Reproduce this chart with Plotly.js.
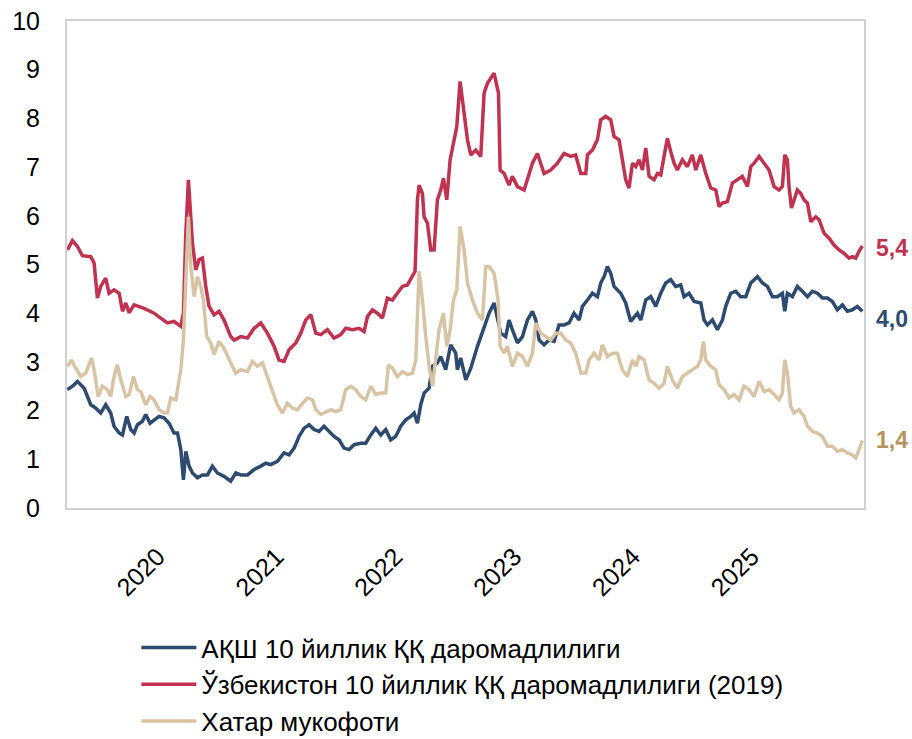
<!DOCTYPE html>
<html>
<head>
<meta charset="utf-8">
<script src="https://cdn.plot.ly/plotly-3.0.1.min.js"></script>
<style>
  html, body { margin: 0; padding: 0; background: #fff; }
  #chart { width: 912px; height: 739px; }
</style>
</head>
<body>
<div id="chart"></div>
<script>
// ---- Data (time in decimal years, values in %) ----
const seriesNames = [
  'АҚШ 10 йиллик ҚҚ даромадлилиги',
  'Ўзбекистон 10 йиллик ҚҚ даромадлилиги (2019)',
  'Хатар мукофоти'
];

const usT = [2019.240,2019.282,2019.324,2019.380,2019.436,2019.478,2019.520,2019.562,2019.604,2019.632,2019.675,2019.703,2019.739,2019.773,2019.801,2019.829,2019.871,2019.899,2019.935,2019.969,2020.011,2020.053,2020.095,2020.137,2020.166,2020.194,2020.216,2020.236,2020.264,2020.292,2020.334,2020.376,2020.418,2020.460,2020.502,2020.558,2020.614,2020.657,2020.699,2020.755,2020.811,2020.867,2020.909,2020.951,2021.007,2021.063,2021.105,2021.148,2021.190,2021.232,2021.274,2021.316,2021.358,2021.400,2021.442,2021.484,2021.526,2021.568,2021.610,2021.653,2021.709,2021.751,2021.793,2021.835,2021.877,2021.919,2021.961,2022.003,2022.045,2022.088,2022.130,2022.158,2022.186,2022.214,2022.242,2022.284,2022.312,2022.354,2022.382,2022.424,2022.466,2022.508,2022.522,2022.550,2022.593,2022.635,2022.691,2022.747,2022.789,2022.831,2022.859,2022.887,2022.929,2022.957,2022.985,2023.028,2023.070,2023.112,2023.154,2023.182,2023.210,2023.252,2023.294,2023.336,2023.378,2023.420,2023.462,2023.504,2023.547,2023.575,2023.617,2023.659,2023.701,2023.729,2023.757,2023.785,2023.813,2023.841,2023.897,2023.939,2023.981,2024.010,2024.038,2024.066,2024.108,2024.150,2024.192,2024.234,2024.276,2024.318,2024.360,2024.402,2024.430,2024.472,2024.515,2024.571,2024.599,2024.627,2024.669,2024.711,2024.753,2024.781,2024.823,2024.865,2024.907,2024.950,2024.992,2025.048,2025.090,2025.132,2025.174,2025.216,2025.258,2025.278,2025.300,2025.342,2025.384,2025.426,2025.469,2025.511,2025.553,2025.595,2025.637,2025.679,2025.721,2025.763,2025.805,2025.847,2025.889,2025.931];
const usY = [2.43,2.50,2.60,2.46,2.12,2.05,1.95,2.12,1.95,1.68,1.54,1.50,1.88,1.61,1.54,1.71,1.78,1.92,1.74,1.81,1.88,1.85,1.74,1.54,1.54,1.20,0.58,1.16,0.86,0.72,0.62,0.68,0.68,0.86,0.72,0.65,0.55,0.72,0.68,0.68,0.79,0.86,0.92,0.89,0.96,1.13,1.09,1.23,1.47,1.64,1.71,1.61,1.57,1.68,1.57,1.47,1.40,1.23,1.20,1.30,1.33,1.33,1.50,1.64,1.50,1.61,1.40,1.47,1.68,1.81,1.88,1.95,1.74,2.12,2.36,2.46,2.91,2.98,3.11,2.84,3.35,3.18,2.84,3.08,2.63,2.87,3.32,3.69,4.00,4.21,3.86,3.59,3.52,3.86,3.66,3.39,3.52,3.86,4.04,3.86,3.45,3.35,3.45,3.42,3.76,3.76,3.80,4.00,3.86,4.14,4.27,4.41,4.34,4.62,4.75,4.96,4.82,4.55,4.41,4.21,3.83,3.93,4.00,3.86,4.27,4.34,4.14,4.41,4.62,4.69,4.55,4.58,4.34,4.41,4.24,4.21,3.86,3.76,3.86,3.66,3.86,4.14,4.41,4.45,4.34,4.34,4.62,4.75,4.62,4.55,4.34,4.34,4.41,4.04,4.41,4.34,4.55,4.45,4.34,4.45,4.41,4.31,4.31,4.24,4.07,4.17,4.04,4.07,4.14,4.04];

const uzT = [2019.240,2019.282,2019.324,2019.366,2019.436,2019.464,2019.492,2019.520,2019.562,2019.590,2019.632,2019.675,2019.703,2019.731,2019.759,2019.801,2019.885,2019.969,2020.025,2020.081,2020.137,2020.194,2020.216,2020.236,2020.258,2020.278,2020.292,2020.320,2020.348,2020.376,2020.404,2020.432,2020.474,2020.516,2020.558,2020.614,2020.643,2020.699,2020.755,2020.811,2020.867,2020.923,2020.979,2021.021,2021.063,2021.105,2021.162,2021.204,2021.246,2021.288,2021.330,2021.372,2021.428,2021.484,2021.540,2021.582,2021.639,2021.695,2021.737,2021.765,2021.807,2021.849,2021.891,2021.933,2021.975,2022.017,2022.059,2022.102,2022.144,2022.166,2022.186,2022.200,2022.228,2022.242,2022.270,2022.298,2022.326,2022.354,2022.382,2022.405,2022.433,2022.461,2022.489,2022.517,2022.545,2022.579,2022.607,2022.635,2022.677,2022.719,2022.747,2022.775,2022.831,2022.868,2022.882,2022.915,2022.957,2022.985,2023.028,2023.084,2023.126,2023.154,2023.196,2023.252,2023.308,2023.364,2023.420,2023.476,2023.518,2023.561,2023.603,2023.617,2023.659,2023.701,2023.729,2023.771,2023.813,2023.841,2023.883,2023.911,2023.939,2023.967,2023.996,2024.024,2024.052,2024.080,2024.108,2024.136,2024.178,2024.206,2024.234,2024.262,2024.290,2024.318,2024.346,2024.374,2024.416,2024.458,2024.500,2024.529,2024.571,2024.613,2024.655,2024.697,2024.725,2024.753,2024.795,2024.837,2024.879,2024.921,2024.964,2024.992,2025.020,2025.062,2025.104,2025.146,2025.188,2025.230,2025.258,2025.278,2025.300,2025.314,2025.334,2025.356,2025.384,2025.412,2025.440,2025.469,2025.497,2025.539,2025.567,2025.609,2025.651,2025.693,2025.735,2025.777,2025.819,2025.847,2025.875,2025.903,2025.931];
const uzY = [5.30,5.49,5.37,5.18,5.16,5.03,4.31,4.55,4.72,4.41,4.48,4.41,4.04,4.21,4.01,4.17,4.10,4.00,3.90,3.80,3.83,3.73,4.00,5.64,6.74,6.05,5.44,4.89,5.10,5.13,4.55,4.14,3.97,4.04,3.86,3.52,3.45,3.52,3.49,3.69,3.80,3.59,3.32,3.04,3.01,3.25,3.39,3.59,3.86,3.97,3.59,3.56,3.66,3.49,3.56,3.69,3.66,3.69,3.62,3.93,4.07,4.00,3.90,4.31,4.27,4.41,4.55,4.58,4.79,4.86,6.33,6.63,6.46,5.98,5.85,5.30,5.30,6.33,6.53,6.77,6.33,7.15,7.49,7.83,8.76,8.17,7.56,7.25,7.35,7.22,8.52,8.72,8.93,8.52,6.94,6.87,6.63,6.81,6.60,6.53,6.87,7.08,7.28,6.87,6.94,7.08,7.28,7.22,7.25,6.87,6.87,7.25,7.35,7.56,7.97,8.04,7.97,7.63,7.56,7.15,6.74,6.57,7.08,7.01,7.15,6.94,7.39,6.81,6.74,6.87,6.84,7.22,7.59,7.32,7.08,6.94,7.15,7.01,7.25,6.94,7.25,6.87,6.57,6.53,6.19,6.26,6.29,6.67,6.74,6.81,6.60,7.01,7.08,7.22,7.08,6.94,6.60,6.53,6.60,7.25,7.15,6.60,6.16,6.33,6.53,6.46,6.33,6.26,5.88,5.98,5.92,5.64,5.54,5.40,5.30,5.23,5.13,5.16,5.13,5.27,5.38];

const rpT = [2019.240,2019.273,2019.310,2019.352,2019.394,2019.422,2019.442,2019.464,2019.498,2019.534,2019.576,2019.604,2019.632,2019.660,2019.689,2019.731,2019.759,2019.795,2019.829,2019.857,2019.899,2019.935,2019.969,2020.011,2020.053,2020.081,2020.109,2020.152,2020.194,2020.216,2020.236,2020.258,2020.278,2020.306,2020.334,2020.362,2020.384,2020.412,2020.446,2020.474,2020.516,2020.558,2020.614,2020.657,2020.699,2020.755,2020.797,2020.839,2020.881,2020.923,2020.965,2021.007,2021.049,2021.091,2021.134,2021.176,2021.218,2021.260,2021.302,2021.330,2021.372,2021.414,2021.456,2021.498,2021.540,2021.582,2021.625,2021.667,2021.709,2021.751,2021.793,2021.835,2021.877,2021.919,2021.942,2021.975,2022.017,2022.059,2022.102,2022.144,2022.172,2022.200,2022.228,2022.256,2022.284,2022.312,2022.340,2022.368,2022.405,2022.433,2022.461,2022.489,2022.517,2022.545,2022.579,2022.607,2022.649,2022.691,2022.733,2022.761,2022.789,2022.831,2022.865,2022.882,2022.915,2022.943,2022.985,2023.028,2023.070,2023.112,2023.154,2023.182,2023.224,2023.266,2023.308,2023.350,2023.392,2023.434,2023.476,2023.518,2023.561,2023.603,2023.631,2023.673,2023.715,2023.743,2023.785,2023.827,2023.869,2023.911,2023.953,2023.996,2024.024,2024.052,2024.094,2024.136,2024.178,2024.220,2024.262,2024.290,2024.332,2024.374,2024.416,2024.458,2024.500,2024.543,2024.571,2024.593,2024.613,2024.655,2024.697,2024.725,2024.767,2024.809,2024.851,2024.893,2024.935,2024.978,2025.020,2025.062,2025.104,2025.146,2025.188,2025.230,2025.258,2025.278,2025.300,2025.328,2025.356,2025.398,2025.440,2025.469,2025.511,2025.553,2025.595,2025.637,2025.679,2025.721,2025.763,2025.805,2025.847,2025.875,2025.903,2025.931];
const rpY = [2.91,3.04,2.87,2.70,2.77,2.94,3.08,2.84,2.29,2.50,2.43,2.29,2.70,2.94,2.63,2.29,2.33,2.70,2.43,2.39,2.12,2.29,2.22,2.02,1.95,1.95,2.26,2.22,2.84,3.45,4.62,5.98,4.96,4.34,4.75,4.55,4.27,3.52,3.39,3.15,3.42,3.28,2.98,2.77,2.84,2.80,3.01,2.91,2.98,2.70,2.39,2.12,1.95,2.15,2.05,2.02,2.15,2.26,2.22,2.02,1.92,1.98,2.02,1.98,2.02,2.43,2.50,2.43,2.29,2.22,2.50,2.33,2.36,2.36,2.94,2.87,2.70,2.80,2.74,2.77,3.04,4.86,4.27,3.52,2.91,2.50,3.04,3.66,4.00,3.32,3.66,4.27,4.48,5.78,5.30,4.62,4.27,4.00,3.86,4.96,4.96,4.82,4.27,3.32,3.18,3.32,2.91,3.18,3.11,2.91,3.18,3.80,3.59,3.52,3.45,3.59,3.59,3.45,3.39,3.18,2.77,2.77,3.04,3.18,3.04,3.35,3.11,3.18,3.18,2.84,2.70,3.04,2.91,3.11,3.04,2.63,2.56,2.46,2.56,2.91,2.63,2.46,2.70,2.77,2.84,2.91,3.04,3.42,3.04,2.91,2.84,2.53,2.43,2.26,2.33,2.22,2.50,2.43,2.29,2.60,2.39,2.43,2.33,2.22,2.36,3.04,2.77,2.09,1.95,2.02,1.88,1.68,1.57,1.54,1.47,1.27,1.27,1.16,1.20,1.13,1.09,1.03,1.20,1.39];

const yearTicks = [2020, 2021, 2022, 2023, 2024, 2025];
const yearLabels = ['2020', '2021', '2022', '2023', '2024', '2025'];

// ---- Styles ----
const colors = ['#2d4a70', '#c0324f', '#d8c4a5'];
const labelColors = ['#2d4a70', '#c0324f', '#b8925e'];
const labelShift = [-8, -2, 0];
const FONT = 'Arial, "Liberation Sans", sans-serif';

const xs = [usT, uzT, rpT];
const ys = [usY, uzY, rpY];

const traces = xs.map((x, i) => ({
  type: 'scatter',
  mode: 'lines',
  x: x,
  y: ys[i],
  name: seriesNames[i],
  legendgroup: 'g' + i,
  line: { color: colors[i], width: 3.5 },
  hoverinfo: 'skip'
}));

const annotations = ys.map((y, i) => ({
  xref: 'paper', x: 1, xanchor: 'left', xshift: 10,
  yref: 'y', y: y[y.length - 1], yanchor: 'middle', yshift: labelShift[i],
  text: '<b>' + y[y.length - 1].toFixed(1).replace('.', ',') + '</b>',
  showarrow: false,
  font: { family: FONT, size: 23, color: labelColors[i] }
}));

const layout = {
  width: 912, height: 739,
  margin: { l: 67, r: 48, t: 21, b: 231 },
  paper_bgcolor: '#ffffff',
  plot_bgcolor: '#ffffff',
  showlegend: true,
  font: { family: FONT, size: 24, color: '#000000' },
  xaxis: {
    type: 'linear',
    automargin: false,
    range: [2019.236, 2025.945],
    tickvals: yearTicks,
    ticktext: yearLabels,
    tickangle: -45,
    ticks: '',
    ticklabelstandoff: 22,
    showgrid: false, zeroline: false,
    showline: true, linecolor: '#d0d0d0', linewidth: 2, mirror: true,
    tickfont: { family: FONT, size: 25, color: '#000000' }
  },
  yaxis: {
    automargin: false,
    range: [0, 10],
    dtick: 1,
    tick0: 0,
    ticks: '',
    ticklabelstandoff: 20,
    showgrid: false, zeroline: false,
    showline: true, linecolor: '#d0d0d0', linewidth: 2, mirror: true,
    tickfont: { family: FONT, size: 25, color: '#000000' }
  },
  legend: {
    orientation: 'v',
    xref: 'paper', x: 0.087, xanchor: 'left',
    yref: 'container', y: 1 - 624 / 739, yanchor: 'top',
    itemwidth: 55,
    font: { family: FONT, size: 26, color: '#000000' },
    bgcolor: 'rgba(0,0,0,0)',
    tracegroupgap: 0
  },
  annotations: annotations
};

Plotly.newPlot('chart', traces, layout, { staticPlot: true, displayModeBar: false });
</script>
</body>
</html>
